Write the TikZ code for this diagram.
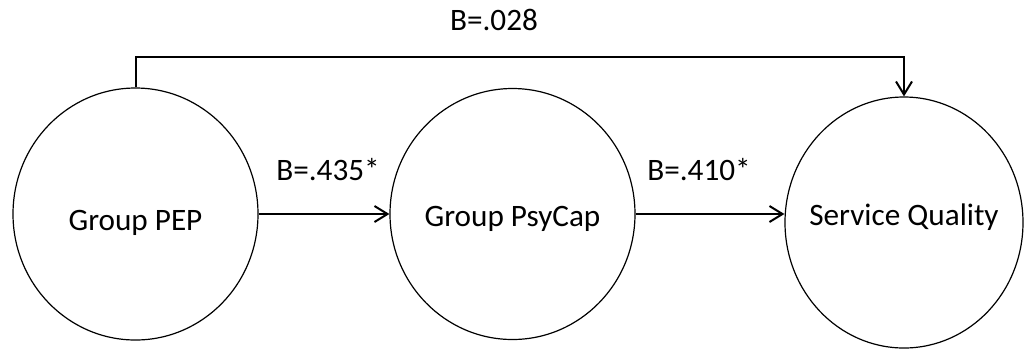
\documentclass[tikz,border=0pt]{standalone}
\usepackage{fontspec}
\setmainfont{Carlito}
\usetikzlibrary{arrows.meta}
\usetikzlibrary{shapes.geometric}
\tikzset{latent/.style={draw,ellipse,line width=0.6pt,inner sep=0pt},
         path/.style={line width=1pt,-{Straight Barb[length=6.5pt,width=8pt]}},
         coef/.style={font=\fontsize{15.6}{18}\selectfont}}

\begin{document}
\begin{tikzpicture}[x=0.5pt,y=-0.5pt]
\useasboundingbox (0,0) rectangle (1024,350);
% constructs
\node [latent,minimum width=122.5pt,minimum height=126pt] (pep) at (135.5,214) {};
\node [latent,minimum width=122.5pt,minimum height=125.5pt] (psycap) at (512.5,214) {};
\node [latent,minimum width=119pt,minimum height=125.5pt] (quality) at (904,222.5) {};
\node [coef] (pepname) at (135.5,223) {Group PEP};
\node [coef] (psycapname) at (512.5,219) {Group PsyCap};
\node [coef] (qualityname) at (904,217) {Service Quality};
% paths
\draw [path] (pep.east) -- (psycap.west);
\draw [path] (psycap.east) -- (psycap.east -| quality.west);
\coordinate (direct) at (520,57);
\draw [path] (pep.north) |- (direct) -| (quality.north);
% coefficients
\node [coef] (b1) at (328,170) {B=.435*};
\node [coef] (b2) at (699,170) {B=.410*};
\node [coef] (b3) at (494,20) {B=.028};
\end{tikzpicture}
\end{document}
